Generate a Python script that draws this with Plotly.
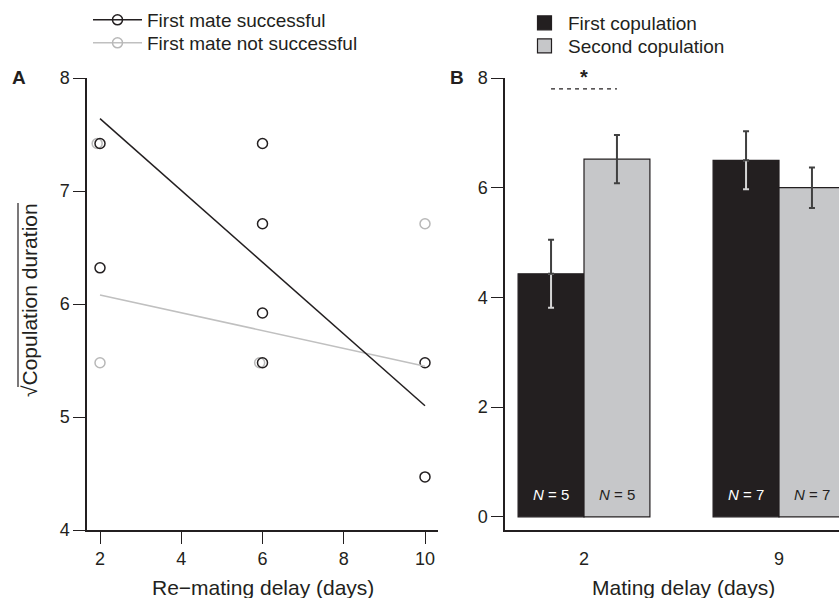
import plotly.graph_objects as go

# ---------------- Data ----------------
# Panel A: sqrt(copulation duration) vs re-mating delay
succ_x = [2, 2, 6, 6, 6, 6, 10, 10]
succ_y = [7.42, 6.32, 7.42, 6.71, 5.92, 5.48, 5.48, 4.47]
fail_x = [1.93, 2, 5.93, 10]
fail_y = [7.42, 5.48, 5.48, 6.71]
fit_x = [2, 10]
fit_succ = [7.64, 5.10]
fit_fail = [6.08, 5.45]
a_xticks = [2, 4, 6, 8, 10]
a_yticks = [4, 5, 6, 7, 8]

# Panel B: copulation duration by mating delay
delay_labels = ["2", "9"]
first_mean = [4.43, 6.50]
first_se = [0.62, 0.53]
second_mean = [6.52, 6.00]
second_se = [0.44, 0.37]
n_first = [5, 7]
n_second = [5, 7]
b_yticks = [0, 2, 4, 6, 8]
sig_y = 7.8

# ---------------- Styling ----------------
FONT = "Liberation Sans, Arial, sans-serif"
BLACK = "#231f20"
DARKERR = "#404040"
LIGHTERR = "#d4d4d4"
GREYFILL = "#c6c7c9"
GREYPT = "#b8b8b8"
GREYLINE = "#c0c0c0"

W, H = 839, 598
def px(x):
    return x / W
def py(y):
    return 1 - y / H

fig = go.Figure()

# Panel A points and fits
fig.add_trace(go.Scatter(x=fail_x, y=fail_y, mode="markers", xaxis="x", yaxis="y",
                         marker=dict(symbol="circle-open", size=10, color=GREYPT, line=dict(width=1.5)),
                         showlegend=False))
fig.add_trace(go.Scatter(x=succ_x, y=succ_y, mode="markers", xaxis="x", yaxis="y",
                         marker=dict(symbol="circle-open", size=10, color=BLACK, line=dict(width=1.5)),
                         showlegend=False))
fig.add_trace(go.Scatter(x=fit_x, y=fit_fail, mode="lines", xaxis="x", yaxis="y",
                         line=dict(color=GREYLINE, width=1.5), showlegend=False))
fig.add_trace(go.Scatter(x=fit_x, y=fit_succ, mode="lines", xaxis="x", yaxis="y",
                         line=dict(color=BLACK, width=1.5), showlegend=False))
# Legend entries for panel A
fig.add_trace(go.Scatter(x=[None], y=[None], mode="lines+markers", name="First mate successful",
                         xaxis="x", yaxis="y", legend="legend",
                         line=dict(color=BLACK, width=1.5),
                         marker=dict(symbol="circle-open", size=10, color=BLACK, line=dict(width=1.5))))
fig.add_trace(go.Scatter(x=[None], y=[None], mode="lines+markers", name="First mate not successful",
                         xaxis="x", yaxis="y", legend="legend2",
                         line=dict(color=GREYLINE, width=1.5),
                         marker=dict(symbol="circle-open", size=10, color=GREYPT, line=dict(width=1.5))))

# Panel B bars
bw = 0.338
idx = list(range(len(delay_labels)))
first_x = [i - bw / 2 for i in idx]
second_x = [i + bw / 2 for i in idx]

fig.add_trace(go.Bar(x=first_x, y=first_mean, width=bw, xaxis="x2", yaxis="y2",
                     marker=dict(color=BLACK, line=dict(color=BLACK, width=1.2)), showlegend=False))
fig.add_trace(go.Bar(x=second_x, y=second_mean, width=bw, xaxis="x2", yaxis="y2",
                     marker=dict(color=GREYFILL, line=dict(color=BLACK, width=1.2)), showlegend=False))

# Error bars: lower part inside black bars drawn light
fig.add_trace(go.Scatter(x=first_x, y=first_mean, mode="markers", xaxis="x2", yaxis="y2",
                         marker=dict(size=0.1, color="rgba(0,0,0,0)"), showlegend=False, hoverinfo="skip",
                         error_y=dict(type="data", array=[0] * len(first_se), arrayminus=first_se,
                                      color=LIGHTERR, thickness=2, width=3)))
fig.add_trace(go.Scatter(x=first_x, y=first_mean, mode="markers", xaxis="x2", yaxis="y2",
                         marker=dict(size=0.1, color="rgba(0,0,0,0)"), showlegend=False, hoverinfo="skip",
                         error_y=dict(type="data", array=first_se, arrayminus=[0] * len(first_se),
                                      color=DARKERR, thickness=2, width=3)))
fig.add_trace(go.Scatter(x=second_x, y=second_mean, mode="markers", xaxis="x2", yaxis="y2",
                         marker=dict(size=0.1, color="rgba(0,0,0,0)"), showlegend=False, hoverinfo="skip",
                         error_y=dict(type="data", array=second_se, color=DARKERR, thickness=2, width=3)))

# Significance dashed line
fig.add_trace(go.Scatter(x=[first_x[0], second_x[0]], y=[sig_y, sig_y], mode="lines",
                         xaxis="x2", yaxis="y2", line=dict(color=BLACK, width=1.3, dash="4px,4px"),
                         showlegend=False, cliponaxis=False))

# Legend entries for panel B
fig.add_trace(go.Scatter(x=[None], y=[None], mode="markers", name="First copulation",
                         xaxis="x2", yaxis="y2", legend="legend3",
                         marker=dict(symbol="square", size=14, color=BLACK, line=dict(color=BLACK, width=1.2))))
fig.add_trace(go.Scatter(x=[None], y=[None], mode="markers", name="Second copulation",
                         xaxis="x2", yaxis="y2", legend="legend4",
                         marker=dict(symbol="square", size=14, color=GREYFILL, line=dict(color=BLACK, width=1.2))))

annotations = []
# N labels
for i in idx:
    annotations.append(dict(x=first_x[i], y=0.41, xref="x2", yref="y2", showarrow=False,
                            xanchor="center", yanchor="middle",
                            text=f"<i>N</i> = {n_first[i]}", font=dict(family=FONT, size=15, color="white")))
    annotations.append(dict(x=second_x[i], y=0.41, xref="x2", yref="y2", showarrow=False,
                            xanchor="center", yanchor="middle",
                            text=f"<i>N</i> = {n_second[i]}", font=dict(family=FONT, size=15, color=BLACK)))
# star
annotations.append(dict(x=idx[0], y=sig_y, xref="x2", yref="y2", showarrow=False, yanchor="bottom",
                        xanchor="center", yshift=-1, text="<b>*</b>",
                        font=dict(family=FONT, size=20, color=BLACK)))

def paper_text(x, y, text, size, angle=0, bold=False):
    return dict(x=px(x), y=py(y), xref="paper", yref="paper", showarrow=False,
                xanchor="center", yanchor="middle", textangle=angle,
                text=f"<b>{text}</b>" if bold else text,
                font=dict(family=FONT, size=size, color=BLACK))

annotations.append(paper_text(19, 77, "A", 19, bold=True))
annotations.append(paper_text(457, 77, "B", 19, bold=True))
annotations.append(paper_text(263, 587, "Re\u2212mating delay (days)", 21))
annotations.append(paper_text(683, 587, "Mating delay (days)", 21))
annotations.append(paper_text(29, 300, "\u221aCopulation duration", 21, angle=-90))

shapes = [dict(type="line", xref="paper", yref="paper", x0=px(18), x1=px(18), y0=py(203), y1=py(387),
               line=dict(color=BLACK, width=1.2))]

axis_common = dict(showline=True, linecolor=BLACK, linewidth=1.5, ticks="outside", ticklen=12,
                   tickwidth=1.3, tickcolor=BLACK, showgrid=False, zeroline=False, automargin=False,
                   tickfont=dict(family=FONT, size=18, color=BLACK), mirror=False)

def leg(x, y, iw):
    return dict(x=px(x), y=py(y), xanchor="left", yanchor="middle", bgcolor="rgba(0,0,0,0)",
                font=dict(family=FONT, size=19, color=BLACK), itemwidth=iw, tracegroupgap=0)

ydom = [py(530), py(78)]
b_left, b_center0, b_unit = 505, 584, 195
fig.update_layout(
    template="none",
    width=W, height=H, margin=dict(l=0, r=0, t=0, b=0, autoexpand=False),
    plot_bgcolor="white", paper_bgcolor="white",
    barmode="overlay",
    xaxis=dict(domain=[px(87), px(438)], range=[1.68, 10.32], tickvals=a_xticks, anchor="y", **axis_common),
    yaxis=dict(domain=ydom, range=[4, 8], tickvals=a_yticks, anchor="x", **axis_common),
    xaxis2=dict(domain=[px(b_left), 1.0],
                range=[(b_left - b_center0) / b_unit, (W - b_center0) / b_unit],
                tickvals=idx, ticktext=delay_labels,
                anchor="y2", **{**axis_common, "tickcolor": "rgba(0,0,0,0)"}),
    yaxis2=dict(domain=ydom, range=[-0.24, 8], tickvals=b_yticks, anchor="x2", **axis_common),
    legend=leg(88, 20, 49),
    legend2=leg(88, 43, 49),
    legend3=leg(521, 23, 37),
    legend4=leg(521, 46, 37),
    annotations=annotations, shapes=shapes,
    font=dict(family=FONT, color=BLACK),
)

fig.write_html("out.html", config={"displayModeBar": False},
               post_script="document.body.style.margin='0';document.body.style.overflow='hidden';")
